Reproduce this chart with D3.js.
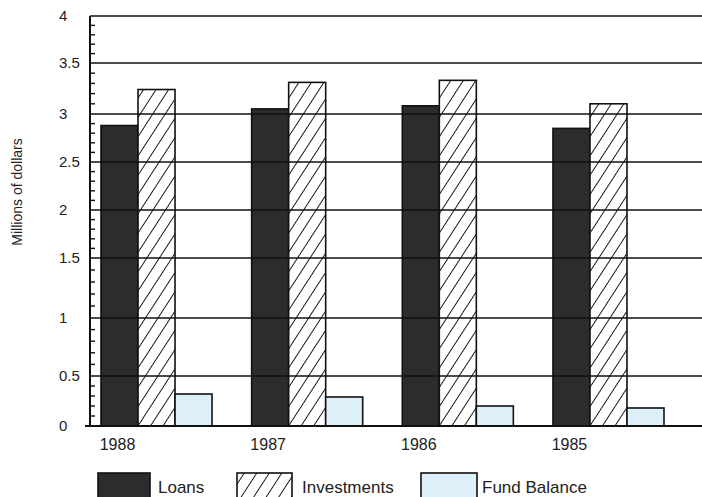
<!DOCTYPE html>
<html>
<head>
<meta charset="utf-8">
<script src="https://cdn.jsdelivr.net/npm/d3@7"></script>
<style>
  body { margin: 0; background: #fff; }
  svg { display: block; font-family: "Liberation Sans", Arial, sans-serif; }
</style>
</head>
<body>
<svg id="chart" width="702" height="497"></svg>
<script>
// values (millions of dollars)
var years = ['1988', '1987', '1986', '1985'];
var seriesNames = ['Loans', 'Investments', 'Fund Balance'];
var loans = [2.88, 3.05, 3.08, 2.85];
var investments = [3.24, 3.31, 3.33, 3.1];
var fundBalance = [0.32, 0.29, 0.2, 0.18];
var yTicks = [0, 0.5, 1, 1.5, 2, 2.5, 3, 3.5, 4];

var width = 702, height = 497;
var svg = d3.select('#chart');

var rows = years.map((y, i) => ({
    year: y,
    values: [
        { key: 'Loans', value: loans[i] },
        { key: 'Investments', value: investments[i] },
        { key: 'Fund Balance', value: fundBalance[i] }
    ]
}));

// the printed scale is slightly uneven, so map each major tick to where it sits
var y = d3.scaleLinear()
    .domain(yTicks)
    .range([426, 376, 318, 258, 210, 162, 114, 63, 16]);
var x0 = d3.scaleBand().domain(years).range([101, 664]).paddingInner(0.263).paddingOuter(0);
var x1 = d3.scaleBand().domain(seriesNames).range([0, x0.bandwidth()]);

var fills = { 'Loans': '#2c2c2e', 'Investments': 'url(#hatch)', 'Fund Balance': '#ddeff9' };

var defs = svg.append('defs');
var pat = defs.append('pattern')
    .attr('id', 'hatch')
    .attr('patternUnits', 'userSpaceOnUse')
    .attr('width', 10.5)
    .attr('height', 10)
    .attr('patternTransform', 'rotate(33)');
pat.append('rect').attr('width', 10.5).attr('height', 10).attr('fill', '#fff');
pat.append('line')
    .attr('x1', 0).attr('y1', 0).attr('x2', 0).attr('y2', 10)
    .attr('stroke', '#111').attr('stroke-width', 1.9);

// bars
var groups = svg.append('g').selectAll('g')
    .data(rows)
    .enter().append('g')
    .attr('transform', d => `translate(${x0(d.year)},0)`);

groups.selectAll('rect')
    .data(d => d.values)
    .enter().append('rect')
    .attr('x', d => x1(d.key))
    .attr('y', d => y(d.value))
    .attr('width', x1.bandwidth())
    .attr('height', d => y(0) - y(d.value))
    .attr('fill', d => fills[d.key])
    .attr('stroke', '#111')
    .attr('stroke-width', 1.6);

// grid lines (drawn over the bars like the print)
svg.append('g').selectAll('line')
    .data(yTicks.filter(t => t > 0))
    .enter().append('line')
    .attr('x1', 90).attr('x2', width)
    .attr('y1', d => y(d)).attr('y2', d => y(d))
    .attr('stroke', '#111')
    .attr('stroke-width', 1.5);

// minor ticks
svg.append('g').selectAll('line')
    .data(d3.range(0, 40).map(i => i / 10).filter(v => Math.round(v * 10) % 5 !== 0))
    .enter().append('line')
    .attr('x1', 90).attr('x2', 95)
    .attr('y1', d => y(d)).attr('y2', d => y(d))
    .attr('stroke', '#111')
    .attr('stroke-width', 1.4);

// y axis line and base line
svg.append('line')
    .attr('x1', 90).attr('x2', 90)
    .attr('y1', y(4)).attr('y2', y(0))
    .attr('stroke', '#111').attr('stroke-width', 2);
svg.append('line')
    .attr('x1', 85).attr('x2', width)
    .attr('y1', y(0)).attr('y2', y(0))
    .attr('stroke', '#111').attr('stroke-width', 2.2);

// y tick labels
svg.append('g').selectAll('text')
    .data(yTicks)
    .enter().append('text')
    .attr('x', 59)
    .attr('y', d => y(d))
    .attr('dy', '0.35em')
    .style('font-size', '15px')
    .style('fill', '#222')
    .text(d => d);

// year labels
svg.append('g').selectAll('text')
    .data(years)
    .enter().append('text')
    .attr('x', d => x0(d) + x1.bandwidth() / 2 - 2)
    .attr('y', 450)
    .style('font-size', '16px')
    .style('text-anchor', 'middle')
    .style('fill', '#222')
    .text(d => d);

// y axis title
svg.append('text')
    .attr('transform', 'translate(17,192) rotate(-90)')
    .attr('dy', '0.35em')
    .style('font-size', '14px')
    .style('text-anchor', 'middle')
    .style('fill', '#222')
    .text('Millions of dollars');

// legend
var legendBoxX = [98, 237, 421];
var legendBoxW = [52, 55, 56];
var legendTextX = [158, 302, 482];
var legend = svg.append('g').selectAll('g')
    .data(seriesNames)
    .enter().append('g');
legend.append('rect')
    .attr('x', (d, i) => legendBoxX[i])
    .attr('y', 473)
    .attr('width', (d, i) => legendBoxW[i])
    .attr('height', 26)
    .attr('fill', d => fills[d])
    .attr('stroke', '#111')
    .attr('stroke-width', 1.6);
legend.append('text')
    .attr('x', (d, i) => legendTextX[i])
    .attr('y', 493)
    .style('font-size', '17px')
    .style('fill', '#222')
    .text(d => d);
</script>
</body>
</html>
